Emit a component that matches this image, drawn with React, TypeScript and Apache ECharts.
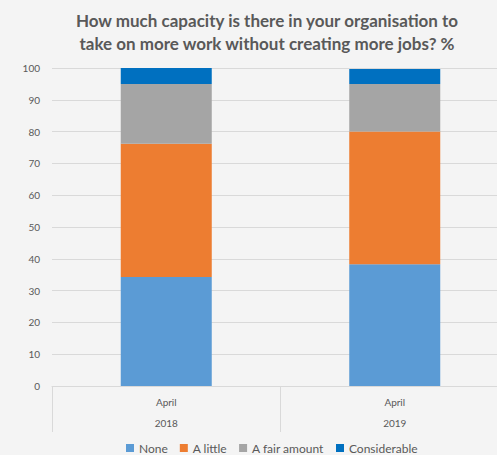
import React, { useEffect, useRef } from "react";
import * as echarts from "echarts";

const titleLines = [
  "How much capacity is there in your organisation to",
  "take on more work without creating more jobs? %",
];
const categories = ["April\n2018", "April\n2019"];
const seriesNames = ["None", "A little", "A fair amount", "Considerable"];
const noneValues = [34.3, 38.3];
const aLittleValues = [41.9, 41.7];
const fairAmountValues = [18.8, 15.0];
const considerableValues = [5.0, 4.7];
const seriesColors = ["#5b9bd5", "#ed7d31", "#a5a5a5", "#0070c0"];

const FONT = "Lato, 'Liberation Sans', sans-serif";
const TEXT = "#595959";
const GRID = "#d9d9d9";

export default function App() {
  const ref = useRef<HTMLDivElement>(null);
  useEffect(() => {
    document.body.style.margin = "0";
    const chart = echarts.init(ref.current!, null, { renderer: "svg" });
    const values = [noneValues, aLittleValues, fairAmountValues, considerableValues];
    chart.setOption({
      animation: false,
      backgroundColor: "#f4f4f4",
      textStyle: { fontFamily: FONT },
      graphic: [
        {
          type: "text",
          x: 267,
          y: 9,
          style: {
            text: titleLines.join("\n"),
            align: "center",
            verticalAlign: "top",
            fontFamily: FONT,
            fontWeight: "bold",
            fontSize: 17,
            lineHeight: 23,
            fill: TEXT,
          },
        },
      ],
      legend: {
        data: seriesNames,
        left: 126,
        top: 442,
        padding: 0,
        itemWidth: 8,
        itemHeight: 8,
        itemGap: 12,
        icon: "rect",
        textStyle: { color: TEXT, fontSize: 12, fontFamily: FONT },
      },
      grid: { left: 52, right: 26, top: 68, bottom: 69, containLabel: false },
      xAxis: {
        type: "category",
        data: categories,
        axisLine: { show: true, lineStyle: { color: GRID } },
        axisTick: { show: true, length: 46, interval: 0, alignWithLabel: false, lineStyle: { color: GRID } },
        axisLabel: { color: TEXT, fontSize: 10, lineHeight: 21, margin: 5, fontFamily: FONT, interval: 0 },
      },
      yAxis: {
        type: "value",
        min: 0,
        max: 100,
        interval: 10,
        axisLine: { show: false },
        axisTick: { show: false },
        splitLine: { lineStyle: { color: GRID } },
        axisLabel: { color: TEXT, fontSize: 10, margin: 12, fontFamily: FONT },
      },
      series: seriesNames.map((name, i) => ({
        name,
        type: "bar",
        stack: "total",
        barWidth: 91,
        data: values[i],
        itemStyle: { color: seriesColors[i] },
      })),
    });
    return () => chart.dispose();
  }, []);
  return (
    <div
      style={{
        position: "fixed",
        left: 0,
        top: 0,
        width: 497,
        height: 455,
        overflow: "hidden",
        background: "#f4f4f4",
      }}
    >
      <div ref={ref} style={{ width: 535, height: 455 }} />
    </div>
  );
}
